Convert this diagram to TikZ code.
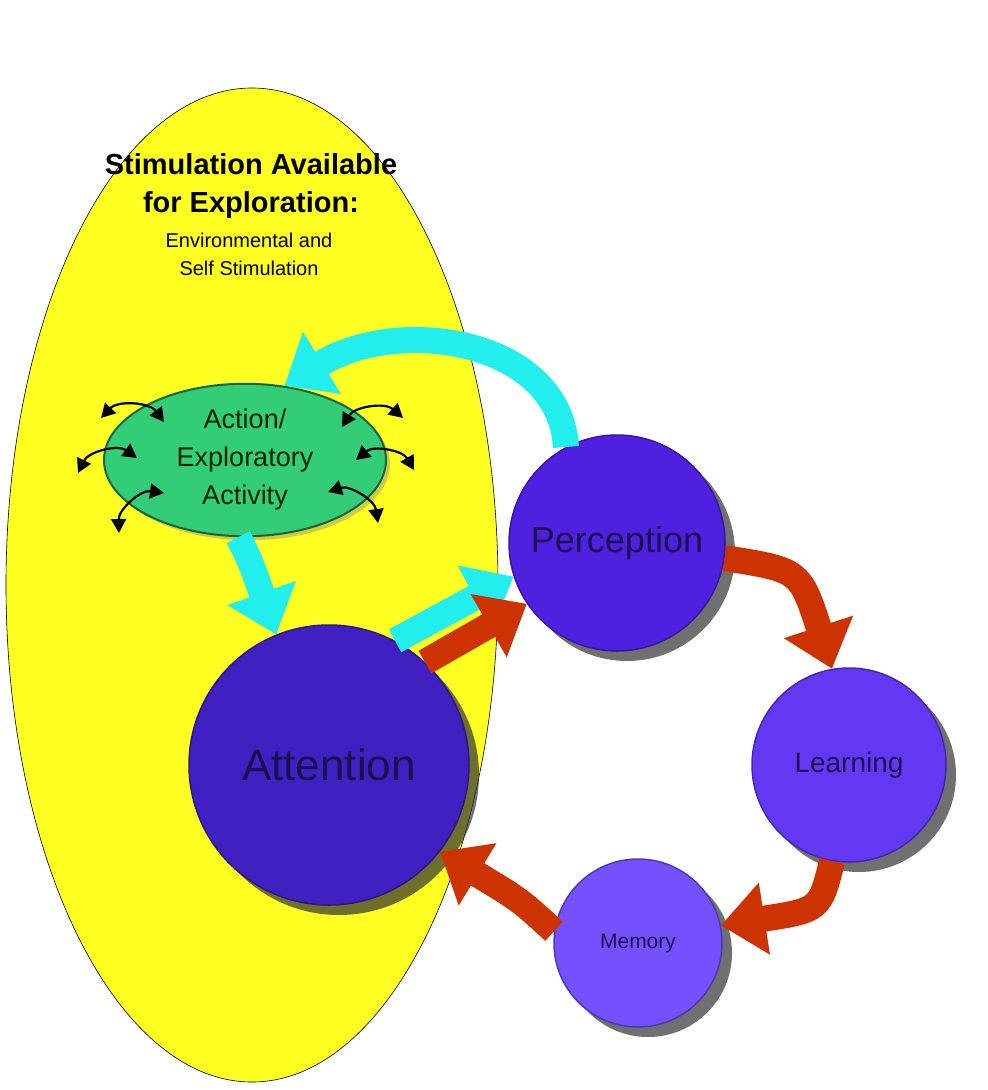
\documentclass[tikz,border=0pt]{standalone}
\usepackage{fontspec}
\setmainfont{Liberation Sans}
\usetikzlibrary{arrows.meta,shadows,shapes.geometric}
\definecolor{yel}{HTML}{FFFF22}
\definecolor{cy}{HTML}{22EEEE}
\definecolor{rd}{HTML}{CC3300}
\definecolor{grn}{HTML}{33CC77}
\definecolor{c1}{HTML}{4020C0}
\definecolor{c2}{HTML}{5020E0}
\definecolor{c3}{HTML}{6438F2}
\definecolor{c4}{HTML}{7450FF}
\definecolor{txt}{HTML}{1A1050}
\begin{document}
\begin{tikzpicture}[x=1pt,y=-1pt,
  ball/.style={circle,draw=#1!70!black,line width=1.5pt,fill=#1,text=txt,
    drop shadow={shadow xshift=10pt,shadow yshift=-10pt,opacity=0.7,fill=black!80}},
  big/.style={line width=26pt,-{Triangle[length=44pt,width=70pt]}},
  small/.style={line width=2.2pt,{Triangle[length=14pt,width=15pt]}-{Triangle[length=14pt,width=15pt]}}]
\useasboundingbox (0,0) rectangle (988,1090);
\node[ellipse,draw=black,line width=0.6pt,fill=yel,minimum width=492pt,minimum height=994pt] (env) at (252,585) {};
\node[align=center,font=\bfseries\fontsize{29}{38}\selectfont] (title) at (251,186) {Stimulation Available\\for Exploration:};
\node[align=center,font=\fontsize{20}{28}\selectfont] (sub) at (249,254) {Environmental and\\Self Stimulation};
\node[ellipse,fill=grn,draw=grn!50!black,line width=2pt,minimum width=282pt,minimum height=136pt,
  align=center,font=\fontsize{27}{38}\selectfont,text=black!85!green,
  drop shadow={shadow xshift=4pt,shadow yshift=-4pt,opacity=0.4}] (green) at (245,460) {Action/\\Exploratory\\Activity};
\node[ball=c1,minimum size=280pt,font=\fontsize{44}{52}\selectfont] (att) at (329,765) {Attention};
\node[ball=c2,minimum size=216pt,font=\fontsize{36}{42}\selectfont] (perc) at (617,543) {Perception};
\node[ball=c3,minimum size=194pt,font=\fontsize{28}{32}\selectfont] (learn) at (849,765) {Learning};
\node[ball=c4,minimum size=168pt,font=\fontsize{21}{24}\selectfont] (mem) at (638,943) {Memory};
% cyan arrows
\draw[big,cy] (perc.118) .. controls (560,340) and (400,315) .. (green.62);
\draw[big,cy] (green.-95) .. controls (250,560) .. (att.112);
\draw[big,cy] (att.62) -- (perc.198);
% red arrows
\draw[big,rd] (att.47) -- (perc.214);
\draw[big,rd] (perc.-8) .. controls (800,570) .. (learn.100);
\draw[big,rd] (learn.-100) .. controls (820,910) .. (mem.12);
\draw[big,rd] (mem.172) .. controls (520,900) .. (att.-38);
% small double arrows
\draw[small] (101,418) to[bend left=50] (164,422);
\draw[small] (342,427) to[bend left=50] (403,418);
\draw[small] (78,473) to[bend left=50] (137,458);
\draw[small] (356,460) to[bend left=50] (414,470);
\draw[small] (119,533) to[bend left=50] (164,493);
\draw[small] (328,492) to[bend left=50] (378,523);
\end{tikzpicture}
\end{document}
